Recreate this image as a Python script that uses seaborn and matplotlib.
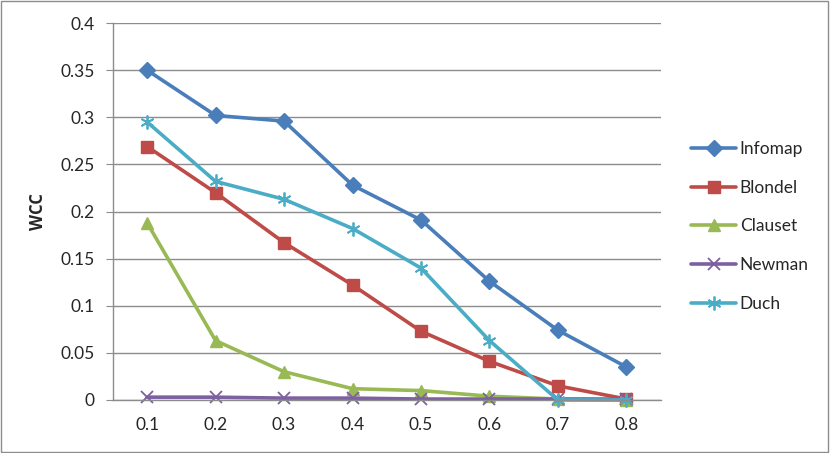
import pandas as pd
import matplotlib.pyplot as plt
import seaborn as sns

# Data
x_labels = ["0.1", "0.2", "0.3", "0.4", "0.5", "0.6", "0.7", "0.8"]
infomap = [0.350, 0.302, 0.296, 0.228, 0.191, 0.126, 0.074, 0.035]
blondel = [0.269, 0.220, 0.167, 0.122, 0.073, 0.041, 0.015, 0.001]
clauset = [0.188, 0.063, 0.030, 0.012, 0.010, 0.004, 0.001, 0.000]
newman = [0.003, 0.003, 0.002, 0.002, 0.001, 0.001, 0.001, 0.001]
duch = [0.295, 0.232, 0.213, 0.182, 0.140, 0.063, 0.000, 0.000]

series = {
    "Infomap": (infomap, "#4A7EBB", "D", 8),
    "Blondel": (blondel, "#BE4B48", "s", 8),
    "Clauset": (clauset, "#98B954", "^", 9),
    "Newman": (newman, "#7D60A0", "x", 8),
    "Duch": (duch, "#4BACC6", (6, 2, 0), 10),
}

sns.set_style("white")
plt.rcParams["font.family"] = ["Lato", "DejaVu Sans"]

fig = plt.figure(figsize=(8.3, 4.53), dpi=100)
ax = fig.add_axes([0.136, 0.117, 0.660, 0.832])

positions = list(range(len(x_labels)))
for name, (vals, color, marker, ms) in series.items():
    df = pd.DataFrame({"x": positions, "y": vals})
    sns.lineplot(data=df, x="x", y="y", ax=ax, color=color, linewidth=2.6,
                 marker=marker, markersize=ms, markeredgecolor=color,
                 markeredgewidth=1.3 if name in ("Newman", "Duch") else 1.0,
                 label=name, clip_on=False)

ax.set_xlim(-0.5, len(x_labels) - 0.5)
ax.set_ylim(0, 0.4)
ax.set_xticks(positions)
ax.set_xticklabels(x_labels)
ax.set_yticks([0, 0.05, 0.1, 0.15, 0.2, 0.25, 0.3, 0.35, 0.4])
ax.set_yticklabels(["0", "0.05", "0.1", "0.15", "0.2", "0.25", "0.3", "0.35", "0.4"])
ax.yaxis.grid(True, color="#8C8C8C", linewidth=1)
ax.set_axisbelow(True)
for side in ["top", "right"]:
    ax.spines[side].set_visible(False)
for side in ["left", "bottom"]:
    ax.spines[side].set_color("#8C8C8C")
    ax.spines[side].set_linewidth(1)
ax.tick_params(axis="y", length=5, color="#8C8C8C", labelsize=12.5, pad=8, left=True)
ax.tick_params(axis="x", length=0, labelsize=12.5, pad=12)
ax.set_xlabel("")
ax.set_ylabel("WCC", fontsize=12, fontweight="bold", labelpad=10,
              family=["Open Sans", "DejaVu Sans"])

handles, labels = ax.get_legend_handles_labels()
ax.legend_.remove()
fig.legend(handles, labels, loc="center left", bbox_to_anchor=(0.814, 0.50),
           frameon=False, fontsize=12.5, handlelength=2.6, labelspacing=1.3,
           handletextpad=0.2)

# outer border like the source
fig.patches.append(plt.Rectangle((0.001, 0.002), 0.997, 0.996, transform=fig.transFigure,
                                 fill=False, edgecolor="#8C8C8C", linewidth=1))

plt.savefig("out.png", dpi=100)
